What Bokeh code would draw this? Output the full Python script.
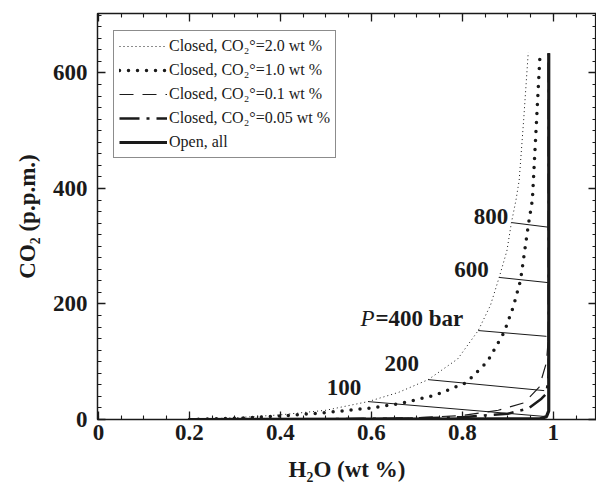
from bokeh.plotting import figure
from bokeh.models import Range1d, LinearAxis, FixedTicker, Legend, LegendItem
from bokeh.core.properties import value
from bokeh.embed import file_html
from bokeh.resources import INLINE

# ---- data ----
c20_x = [0.20, 0.30, 0.40, 0.50, 0.593, 0.66, 0.725, 0.79, 0.835, 0.862, 0.881, 0.898, 0.908, 0.918, 0.925, 0.935, 0.945]
c20_y = [0, 3, 8, 16, 31, 47, 69, 105, 154, 198, 246, 292, 341, 380, 414, 520, 636]

c10_x = [0.20, 0.30, 0.40, 0.50, 0.60, 0.666, 0.74, 0.809, 0.855, 0.892, 0.912, 0.928, 0.945, 0.954, 0.962, 0.971]
c10_y = [0, 2, 6, 12, 20, 28, 42, 64, 100, 151, 195, 241, 336, 380, 500, 634]

c01_x = [0.30, 0.50, 0.70, 0.80, 0.879, 0.936, 0.969, 0.985, 0.99, 0.99]
c01_y = [0, 1, 3, 7, 16, 29, 56, 99, 150, 634]

c005_x = [0.30, 0.50, 0.70, 0.80, 0.90, 0.945, 0.974, 0.985, 0.99, 0.99]
c005_y = [0, 0.5, 2, 4, 10, 19, 36, 45, 80, 634]

open_x = [0.20, 0.97, 0.985, 0.99, 0.99]
open_y = [0, 1, 5, 15, 634]

iso_p = [100, 200, 400, 600, 800]
iso_x0 = [0.593, 0.725, 0.835, 0.881, 0.908]
iso_y0 = [31, 69, 154, 246, 341]
iso_x1 = [0.985, 0.980, 0.985, 0.989, 0.989]
iso_y1 = [5, 50, 144, 237, 333]

x_ticks = [0, 0.2, 0.4, 0.6, 0.8, 1.0]
x_tick_labels = ["0", "0.2", "0.4", "0.6", "0.8", "1"]
x_minor = [round(0.05 * i, 2) for i in range(0, 22)]
y_ticks = [0, 200, 400, 600]
y_minor = [20 * i for i in range(0, 36)]

legend_labels = [
    "Closed, CO\u2082\u00b0=2.0 wt %",
    "Closed, CO\u2082\u00b0=1.0 wt %",
    "Closed, CO\u2082\u00b0=0.1 wt %",
    "Closed, CO\u2082\u00b0=0.05 wt %",
    "Open, all",
]

SERIF = "Liberation Serif"
INK = "#1a1a1a"
FS = "23px"

p = figure(frame_width=499, frame_height=406, output_backend="svg", toolbar_location=None,
           x_range=Range1d(-0.002, 1.095), y_range=Range1d(0, 703),
           min_border_left=97, min_border_right=0, min_border_top=13, min_border_bottom=62)
p.grid.visible = False
p.outline_line_color = INK
p.outline_line_width = 1.2
p.background_fill_color = "white"
p.border_fill_color = "white"

def style_axis(ax, ticks, minor, labels=True):
    ax.ticker = FixedTicker(ticks=ticks, minor_ticks=minor)
    ax.major_tick_in = 8
    ax.major_tick_out = 0
    ax.minor_tick_in = 4
    ax.minor_tick_out = 0
    ax.axis_line_color = INK
    ax.major_tick_line_color = INK
    ax.minor_tick_line_color = INK
    ax.major_tick_line_width = 1.3
    ax.minor_tick_line_width = 1.1
    ax.axis_line_width = 1.3
    ax.major_label_text_font = SERIF
    ax.major_label_text_font_style = "bold"
    ax.major_label_text_font_size = FS
    ax.major_label_text_color = INK
    ax.axis_label_text_font = SERIF
    ax.axis_label_text_font_style = "bold"
    ax.axis_label_text_font_size = FS
    ax.axis_label_text_color = INK
    if not labels:
        ax.major_label_overrides = {t: "" for t in ticks}
        ax.major_label_standoff = 0

xa = p.xaxis[0]
style_axis(xa, x_ticks, x_minor)
xa.major_label_overrides = {t: l for t, l in zip(x_ticks, x_tick_labels)}
xa.axis_label = "H\u2082O (wt %)"
xa.major_label_standoff = 5
xa.axis_label_standoff = 14

ya = p.yaxis[0]
style_axis(ya, y_ticks, y_minor)
ya.axis_label = "CO\u2082 (p.p.m.)"
ya.major_label_standoff = 10
ya.axis_label_standoff = 10

top = LinearAxis()
style_axis(top, x_ticks, x_minor, labels=False)
p.add_layout(top, "above")
right = LinearAxis()
style_axis(right, y_ticks, y_minor, labels=False)
p.add_layout(right, "right")

# isobars
p.segment(x0=iso_x0, y0=iso_y0, x1=iso_x1, y1=iso_y1, line_color=INK, line_width=1)

r20 = p.line(c20_x, c20_y, line_color=INK, line_width=1, line_dash="1 3")
r10 = p.line(c10_x, c10_y, line_color=INK, line_width=3.5, line_dash="0 9", line_cap="round")
r01 = p.line(c01_x, c01_y, line_color=INK, line_width=1.2, line_dash="14 9")
r005 = p.line(c005_x, c005_y, line_color=INK, line_width=2.5, line_dash="20 7 3 7")
ropen = p.line(open_x, open_y, line_color=INK, line_width=3.2)

# isobar labels
lab_x = [0.578, 0.705, 0.858, 0.901]
lab_y = [55, 97, 260, 352]
p.text(x=lab_x, y=lab_y, text=["100", "200", "600", "800"], text_align="right", text_baseline="middle",
       text_font=value(SERIF), text_font_style="bold", text_font_size=FS, text_color=INK)
p.text(x=[0.607], y=[175], text=["P"], text_align="right", text_baseline="middle",
       text_font=value(SERIF), text_font_style="italic", text_font_size=FS, text_color=INK)
p.text(x=[0.609], y=[175], text=["=400  bar"], text_align="left", text_baseline="middle",
       text_font=value(SERIF), text_font_style="bold", text_font_size=FS, text_color=INK)

legend = Legend(items=[LegendItem(label=l, renderers=[r]) for l, r in
                       zip(legend_labels, [r20, r10, r01, r005, ropen])],
                location=(16, 261))
legend.label_text_font = SERIF
legend.label_text_font_size = "16px"
legend.label_text_color = INK
legend.glyph_width = 48
legend.glyph_height = 20
legend.label_standoff = 2
legend.spacing = 4
legend.padding = 5
legend.margin = 0
legend.border_line_color = INK
legend.border_line_width = 1.5
legend.background_fill_alpha = 1
p.add_layout(legend, "center")

open("out.html", "w").write(file_html(p, INLINE))
